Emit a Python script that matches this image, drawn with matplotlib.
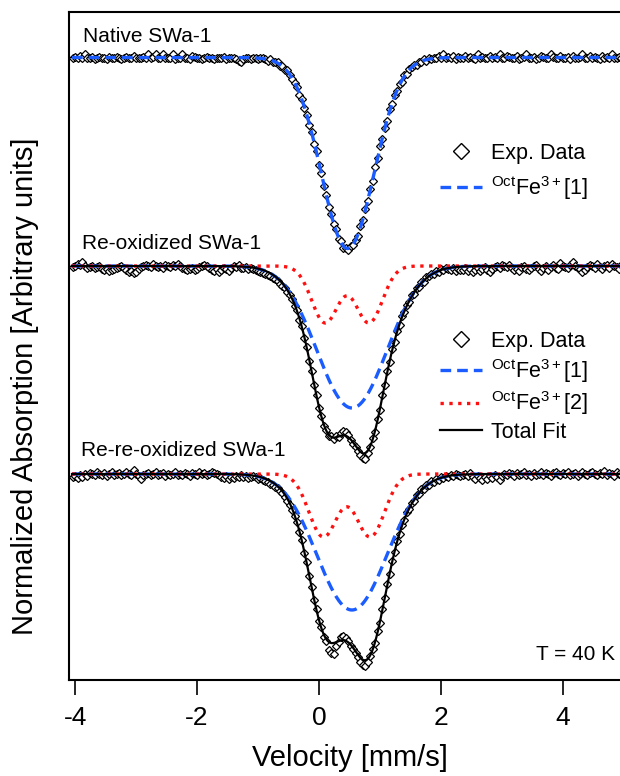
import numpy as np
import matplotlib
matplotlib.use("Agg")
import matplotlib.pyplot as plt
from matplotlib.lines import Line2D

plt.rcParams['font.family'] = ['Liberation Sans', 'DejaVu Sans']
plt.rcParams['mathtext.fontset'] = 'custom'
plt.rcParams['mathtext.rm'] = 'Liberation Sans'
plt.rcParams['mathtext.it'] = 'Liberation Sans:italic'
plt.rcParams['mathtext.bf'] = 'Liberation Sans:bold'

# Velocity channels (mm/s)
velocity = np.linspace(-4.04, 5.16, 231)

# Measured absorption per channel (x 0.01, baseline = 0)
native_abs = [
    1, -1, 0, -2, 1, -3, 0, 1, -1, 2, 0, -1, 1, 0, 2, -1, 0, 1, -1, 0,
    2, 1, -1, 0, 1, -2, 0, 1, 0, -1, 1, -3, 0, -1, -3, 0, 1, -3, 0, 1,
    0, -3, 2, 1, 0, -3, 1, 0, 2, -2, -1, 0, 1, 2, 0, -1, 1, 0, 2, 1,
    0, 1, -1, 2, 1, 0, 1, 2, 3, 4, 2, 1, 0, 2, 1, 1,
    2, 0, 1, 2, 3, 2, 4, 5, 5, 8, 9, 12, 13, 18, 21, 26, 29, 37, 41, 51,
    57, 67, 74, 86, 94, 107, 115, 128, 137, 149, 156, 167, 172, 181, 184, 190, 190, 193, 189, 188,
    182, 178, 169, 163, 152, 144, 131, 123, 110, 101, 89, 81, 70, 63, 52, 47, 38, 34, 27, 24,
    18, 16, 11, 10, 7, 7, 4, 5, 2, 3, 1, 2, 0, 1,
    -2, 0, -3, 1, -1, 0, -2, 2, -1, 0, 1, -2, 0, -1, 1, 2, -3, 0, -1, 1,
    0, -2, 1, -1, 0, -3, 1, 0, -2, -1, 1, 0, -2, 2, 0, -1, -3, 1, 0, -1,
    2, 0, -2, -1, 1, 0, -3, -1, 1, 0, -2, 1, 0, -1, 2, -2, 0, 1, -1, -3,
    0, 1, -2, 0, -1, 1, 2, -2, 0, -1, 1, -3, 0, 1, -1, 0, 2, -2, 0, 1,
    -1,
]
reox_abs = [
    1, 0, -2, -1, -4, 0, 2, 1, 0, 2, 1, 0, 3, 4, 3, 5, 4, 3, 2, 1,
    0, 2, 4, 6, 5, 7, 6, 3, 1, 0, -1, 0, 1, -2, 0, 1, 0, 2, -1, 0,
    1, -1, 0, -2, 0, 2, 3, 4, 3, 2, 4, 3, 1, 0, -1, 0, 2, 4, 5, 3,
    6, 4, 2, 3, 5, 2, 0, 1, -1, 2,
    2, 1, 3, 2, 3, 4, 5, 6, 7, 8, 9, 10, 12, 13, 15, 18, 20, 22, 26, 29,
    33, 40, 44, 54, 60, 72, 81, 95, 105, 119, 129, 142, 150, 160, 164, 170, 170, 173, 170, 171,
    167, 165, 166, 169, 174, 178, 181, 185, 189, 192, 193, 187, 181, 172, 166, 153, 144, 129, 119, 105,
    96, 83, 76, 65, 59, 50, 46, 39, 36, 29, 28, 22, 21, 16, 16, 11, 10, 8, 8, 5,
    6, 3, 4, 2, 3, 4, 2, 5, 3, 4,
    4, 2, 5, 3, 6, 4, 2, 5, 3, 1, 4, 6, 3, 1, 0, 2, -1, 0, 1, -1,
    2, 4, 3, 5, 1, 0, 3, 4, 2, 0, -1, 3, 5, 2, 0, 4, 1, -1, 2, 3,
    -3, 0, 1, 2, -1, -4, 0, 2, 3, 6, 4, 1, -1, 0, 2, -2, 1, 3, 0, -1,
    2, -2, 0, 1, 3, -1, 0, 2, -3, 1, 0,
]
rereox_abs = [
    3, 2, 4, 1, 3, 0, 2, -1, 0, 1, -2, 0, 1, -1, 2, 0, -2, 1, 0, -1,
    1, 0, -2, 0, 1, -4, 0, 2, 5, 1, 0, -1, 1, 0, -2, 1, 0, -1, 2, 0,
    1, 0, -2, 1, 0, 1, -1, 0, 2, -1, 0, 1, -2, 0, -1, 1, 0, -2, -1, 0,
    1, 3, 4, 2, 5, 3, 4, 2, 3, 1,
    3, 2, 4, 3, 2, 3, 5, 4, 6, 7, 8, 10, 11, 13, 14, 17, 19, 23, 27, 31,
    36, 42, 48, 58, 66, 79, 88, 102, 113, 126, 135, 147, 153, 163, 167, 176, 179, 180, 172, 168,
    163, 162, 164, 167, 172, 175, 179, 183, 188, 191, 192, 188, 182, 175, 169, 157, 149, 135, 124, 110,
    100, 87, 78, 67, 60, 51, 46, 38, 35, 29, 27, 21, 20, 15, 15, 11, 11, 7, 8, 5,
    6, 3, 4, 2, 3, 1, 2, 0, 1, 2,
    1, 0, 2, -1, 3, 5, 2, 4, 6, 3, 5, 2, 4, 1, 3, 6, 2, 0, 1, -1,
    0, 2, -1, 1, 0, -2, 1, 0, 2, -1, 1, 0, -2, 1, -1, 0, 2, -1, -2, 0,
    1, -1, 0, -2, 1, 0, -1, 2, 0, -2, 0, 1, -1, -2, 0, 1, -1, 0, -3, 1,
    -1, 0, 2, -2, 0, 1, -1, -2, 0, 1, -1,
]

# Vertical stacking offsets
off_native, off_reox, off_rereox = 6.225, 4.14, 2.06

# Fitted doublets: centre shift, quadrupole splitting, Gaussian width, depth
native_fe1 = (0.47, 0.20, 0.42, 1.91)
reox_fe1 = (0.54, 0.50, 0.49, 1.42)
reox_fe2 = (0.46, 0.72, 0.22, 0.57)
rereox_fe1 = (0.54, 0.50, 0.49, 1.36)
rereox_fe2 = (0.455, 0.77, 0.235, 0.63)


def doublet(v, cs, qs, s, depth):
    def lines(x):
        return (np.exp(-0.5 * ((x - cs + qs / 2) / s) ** 2)
                + np.exp(-0.5 * ((x - cs - qs / 2) / s) ** 2))
    peak = lines(np.linspace(cs - 1, cs + 1, 2001)).max()
    return depth * lines(v) / peak


vf = np.linspace(-4.05, 5.2, 1200)

fig = plt.figure(figsize=(6.2, 7.76), dpi=100)
ax = fig.add_axes([69 / 620, 96 / 776, 561 / 620, 668 / 776])
ax.set_xlim(-4.1, 5.1)
ax.set_ylim(0, 6.68)

mk = dict(ls='none', marker='D', ms=4.4, mfc='white', mec='black', mew=0.9, zorder=2)
blue = dict(color='#1a5cff', lw=2.4, dashes=(3.2, 1.8), zorder=3)
red = dict(color='#ff1010', lw=2.4, ls=':', zorder=3)
black = dict(color='black', lw=1.6, zorder=4)

# Native SWa-1
ax.plot(velocity, off_native - np.array(native_abs) / 100, **mk)
ax.plot(vf, off_native - doublet(vf, *native_fe1), **blue)

# Re-oxidized SWa-1
ax.plot(velocity, off_reox - np.array(reox_abs) / 100, **mk)
ax.plot(vf, off_reox - doublet(vf, *reox_fe1), **blue)
ax.plot(vf, off_reox - doublet(vf, *reox_fe2), **red)
ax.plot(vf, off_reox - doublet(vf, *reox_fe1) - doublet(vf, *reox_fe2), **black)

# Re-re-oxidized SWa-1
ax.plot(velocity, off_rereox - np.array(rereox_abs) / 100, **mk)
ax.plot(vf, off_rereox - doublet(vf, *rereox_fe1), **blue)
ax.plot(vf, off_rereox - doublet(vf, *rereox_fe2), **red)
ax.plot(vf, off_rereox - doublet(vf, *rereox_fe1) - doublet(vf, *rereox_fe2), **black)

ts = 15
ax.text(-3.87, 6.43, 'Native SWa-1', fontsize=ts, va='center', ha='left')
ax.text(-3.885, 4.36, 'Re-oxidized SWa-1', fontsize=ts, va='center', ha='left')
ax.text(-3.9, 2.30, 'Re-re-oxidized SWa-1', fontsize=ts, va='center', ha='left')
ax.text(4.86, 0.25, 'T = 40 K', fontsize=ts, va='center', ha='right')

h_data = Line2D([], [], ls='none', marker='D', ms=8, mfc='white', mec='black', mew=1.0)
h_fe1 = Line2D([], [], **{k: v for k, v in blue.items() if k != 'zorder'})
h_fe2 = Line2D([], [], **{k: v for k, v in red.items() if k != 'zorder'})
h_tot = Line2D([], [], **{k: v for k, v in black.items() if k != 'zorder'})
lab1 = r'$^{\mathrm{Oct}}$Fe$^{3+}$[1]'
lab2 = r'$^{\mathrm{Oct}}$Fe$^{3+}$[2]'
lg_kw = dict(frameon=False, fontsize=15.5, handlelength=1.95, handletextpad=0.42,
             borderpad=0, borderaxespad=0, loc='upper left')
leg1 = ax.legend([h_data, h_fe1], ['Exp. Data', lab1], labelspacing=0.45,
                 bbox_to_anchor=(0.661, 0.804), **lg_kw)
ax.add_artist(leg1)
ax.legend([h_data, h_fe1, h_fe2, h_tot], ['Exp. Data', lab1, lab2, 'Total Fit'],
          labelspacing=0.22, bbox_to_anchor=(0.661, 0.5225), **lg_kw)

for s in ['left', 'top', 'bottom']:
    ax.spines[s].set_linewidth(1.5)
ax.spines['right'].set_visible(False)
ax.set_yticks([])
ax.set_xticks([-4, -2, 0, 2, 4])
ax.set_xticklabels(['-4', '-2', '0', '2', '4'])
ax.tick_params(axis='x', direction='out', length=11, width=1.2, labelsize=19, pad=8)
ax.set_xlabel('Velocity [mm/s]', fontsize=21, labelpad=10)
ax.set_ylabel('Normalized Absorption [Arbitrary units]', fontsize=21)
ax.yaxis.set_label_coords(-0.0535, 0.44)

fig.savefig('out.png', dpi=100)
